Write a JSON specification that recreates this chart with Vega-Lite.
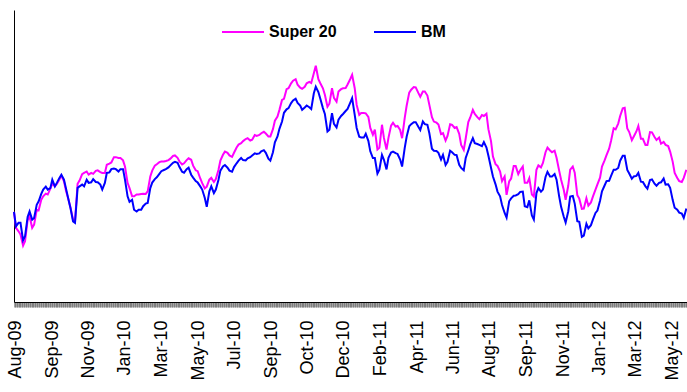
{
  "$schema": "https://vega.github.io/schema/vega-lite/v6.json",
  "width": 673,
  "height": 292,
  "autosize": {"type": "none"},
  "padding": {"left": 14, "top": 10, "right": 0, "bottom": 90},
  "background": "white",
  "config": {"view": {"stroke": null}, "font": "Liberation Sans"},
  "data": {"values": [
    {"d":"2009-07-31","s":105.9,"b":105.9},
    {"d":"2009-08-03","s":100.4,"b":100.9},{"d":"2009-08-07","s":99.2,"b":102.1},
    {"d":"2009-08-10","s":98.1,"b":102.1},{"d":"2009-08-14","s":94.3,"b":96.1},
    {"d":"2009-08-17","s":95.8,"b":97.5},{"d":"2009-08-21","s":103.0,"b":104.1},
    {"d":"2009-08-24","s":104.3,"b":106.0},{"d":"2009-08-28","s":100.4,"b":103.2},
    {"d":"2009-08-31","s":101.5,"b":103.8},{"d":"2009-09-04","s":106.6,"b":108.3},
    {"d":"2009-09-07","s":106.4,"b":109.5},{"d":"2009-09-11","s":110.0,"b":112.0},
    {"d":"2009-09-14","s":111.2,"b":113.5},{"d":"2009-09-18","s":112.1,"b":114.5},
    {"d":"2009-09-21","s":111.8,"b":113.5},{"d":"2009-09-25","s":113.8,"b":114.0},
    {"d":"2009-09-28","s":115.5,"b":116.9},{"d":"2009-10-02","s":114.6,"b":114.6},
    {"d":"2009-10-05","s":115.4,"b":115.8},{"d":"2009-10-09","s":116.9,"b":117.5},
    {"d":"2009-10-12","s":118.3,"b":118.6},{"d":"2009-10-16","s":116.3,"b":116.9},
    {"d":"2009-10-19","s":113.2,"b":114.0},{"d":"2009-10-23","s":110.0,"b":110.0},
    {"d":"2009-10-26","s":107.4,"b":107.2},{"d":"2009-10-30","s":103.2,"b":102.6},
    {"d":"2009-11-02","s":102.6,"b":102.1},{"d":"2009-11-06","s":115.5,"b":114.1},
    {"d":"2009-11-09","s":116.6,"b":114.6},{"d":"2009-11-13","s":118.8,"b":115.2},
    {"d":"2009-11-16","s":119.2,"b":114.6},{"d":"2009-11-20","s":119.7,"b":116.9},
    {"d":"2009-11-23","s":118.6,"b":115.8},{"d":"2009-11-27","s":119.2,"b":116.0},
    {"d":"2009-11-30","s":118.9,"b":117.1},{"d":"2009-12-04","s":119.9,"b":116.1},
    {"d":"2009-12-07","s":120.1,"b":116.0},{"d":"2009-12-11","s":119.5,"b":115.2},
    {"d":"2009-12-14","s":119.2,"b":113.5},{"d":"2009-12-18","s":119.2,"b":115.8},
    {"d":"2009-12-21","s":122.0,"b":119.2},{"d":"2009-12-25","s":122.4,"b":119.4},
    {"d":"2009-12-28","s":122.8,"b":120.5},{"d":"2010-01-01","s":124.6,"b":120.7},
    {"d":"2010-01-04","s":124.6,"b":120.5},{"d":"2010-01-08","s":124.3,"b":119.7},
    {"d":"2010-01-11","s":124.3,"b":120.5},{"d":"2010-01-15","s":123.5,"b":120.5},
    {"d":"2010-01-18","s":121.4,"b":116.9},{"d":"2010-01-22","s":115.8,"b":111.2},
    {"d":"2010-01-25","s":114.0,"b":109.3},{"d":"2010-01-29","s":111.2,"b":110.0},
    {"d":"2010-02-01","s":111.2,"b":106.6},{"d":"2010-02-05","s":111.8,"b":106.0},
    {"d":"2010-02-08","s":111.8,"b":106.6},{"d":"2010-02-12","s":112.0,"b":106.6},
    {"d":"2010-02-15","s":112.1,"b":107.8},{"d":"2010-02-19","s":112.0,"b":108.7},
    {"d":"2010-02-22","s":112.9,"b":108.9},{"d":"2010-02-26","s":118.0,"b":114.0},
    {"d":"2010-03-01","s":120.0,"b":115.9},{"d":"2010-03-05","s":121.7,"b":117.1},
    {"d":"2010-03-08","s":122.2,"b":117.7},{"d":"2010-03-12","s":122.9,"b":118.9},
    {"d":"2010-03-15","s":123.1,"b":119.8},{"d":"2010-03-19","s":123.1,"b":120.2},
    {"d":"2010-03-22","s":123.3,"b":120.5},{"d":"2010-03-26","s":123.6,"b":121.1},
    {"d":"2010-03-29","s":124.1,"b":121.8},{"d":"2010-04-02","s":125.0,"b":122.7},
    {"d":"2010-04-05","s":125.2,"b":123.0},{"d":"2010-04-09","s":124.4,"b":122.7},
    {"d":"2010-04-12","s":123.1,"b":121.2},{"d":"2010-04-16","s":122.1,"b":119.6},
    {"d":"2010-04-19","s":122.5,"b":119.3},{"d":"2010-04-23","s":123.6,"b":120.5},
    {"d":"2010-04-26","s":124.2,"b":121.0},{"d":"2010-04-30","s":123.7,"b":118.6},
    {"d":"2010-05-03","s":121.7,"b":117.6},{"d":"2010-05-07","s":120.1,"b":116.4},
    {"d":"2010-05-10","s":119.8,"b":115.9},{"d":"2010-05-14","s":117.3,"b":114.6},
    {"d":"2010-05-17","s":115.7,"b":113.5},{"d":"2010-05-21","s":113.9,"b":110.6},
    {"d":"2010-05-24","s":114.5,"b":107.6},{"d":"2010-05-28","s":116.9,"b":112.9},
    {"d":"2010-05-31","s":117.5,"b":114.6},{"d":"2010-06-04","s":116.1,"b":112.3},
    {"d":"2010-06-07","s":117.1,"b":113.5},{"d":"2010-06-11","s":120.2,"b":116.8},
    {"d":"2010-06-14","s":123.4,"b":120.0},{"d":"2010-06-18","s":125.4,"b":121.4},
    {"d":"2010-06-21","s":126.5,"b":121.9},{"d":"2010-06-25","s":126.1,"b":121.0},
    {"d":"2010-06-28","s":125.2,"b":120.0},{"d":"2010-07-02","s":124.7,"b":119.6},
    {"d":"2010-07-05","s":126.1,"b":121.2},{"d":"2010-07-09","s":127.9,"b":122.5},
    {"d":"2010-07-12","s":128.9,"b":123.4},{"d":"2010-07-16","s":129.4,"b":124.3},
    {"d":"2010-07-19","s":130.1,"b":123.6},{"d":"2010-07-23","s":130.8,"b":123.5},
    {"d":"2010-07-26","s":131.1,"b":124.2},{"d":"2010-07-30","s":130.3,"b":124.6},
    {"d":"2010-08-02","s":130.6,"b":125.2},{"d":"2010-08-06","s":132.2,"b":125.9},
    {"d":"2010-08-09","s":131.9,"b":125.7},{"d":"2010-08-13","s":132.2,"b":125.9},
    {"d":"2010-08-16","s":132.8,"b":126.6},{"d":"2010-08-20","s":133.3,"b":127.0},
    {"d":"2010-08-23","s":132.7,"b":126.1},{"d":"2010-08-27","s":131.7,"b":124.1},
    {"d":"2010-08-30","s":131.7,"b":123.4},{"d":"2010-09-03","s":134.2,"b":126.3},
    {"d":"2010-09-06","s":137.1,"b":129.7},{"d":"2010-09-10","s":138.5,"b":131.7},
    {"d":"2010-09-13","s":140.8,"b":134.3},{"d":"2010-09-17","s":144.2,"b":136.8},
    {"d":"2010-09-20","s":144.6,"b":139.8},{"d":"2010-09-24","s":147.9,"b":141.0},
    {"d":"2010-09-27","s":148.2,"b":141.4},{"d":"2010-10-01","s":149.9,"b":143.1},
    {"d":"2010-10-04","s":150.8,"b":144.0},{"d":"2010-10-08","s":151.3,"b":144.6},
    {"d":"2010-10-11","s":149.4,"b":143.2},{"d":"2010-10-15","s":148.4,"b":142.3},
    {"d":"2010-10-18","s":148.0,"b":140.8},{"d":"2010-10-22","s":148.7,"b":141.6},
    {"d":"2010-10-25","s":149.9,"b":142.3},{"d":"2010-10-29","s":150.4,"b":141.7},
    {"d":"2010-11-01","s":150.0,"b":141.1},{"d":"2010-11-05","s":153.3,"b":146.5},
    {"d":"2010-11-08","s":155.9,"b":148.7},{"d":"2010-11-12","s":151.3,"b":146.9},
    {"d":"2010-11-15","s":149.9,"b":144.6},{"d":"2010-11-19","s":148.2,"b":141.4},
    {"d":"2010-11-22","s":146.0,"b":139.4},{"d":"2010-11-26","s":141.9,"b":133.4},
    {"d":"2010-11-29","s":142.9,"b":134.0},{"d":"2010-12-03","s":148.2,"b":139.7},
    {"d":"2010-12-06","s":144.9,"b":136.0},{"d":"2010-12-10","s":143.6,"b":134.8},
    {"d":"2010-12-13","s":147.1,"b":137.4},{"d":"2010-12-17","s":147.9,"b":138.7},
    {"d":"2010-12-20","s":148.2,"b":139.4},{"d":"2010-12-24","s":148.3,"b":140.4},
    {"d":"2010-12-27","s":149.5,"b":141.1},{"d":"2010-12-31","s":151.3,"b":143.2},
    {"d":"2011-01-03","s":152.8,"b":144.8},{"d":"2011-01-07","s":148.2,"b":139.1},
    {"d":"2011-01-10","s":142.5,"b":134.6},{"d":"2011-01-14","s":139.1,"b":131.6},
    {"d":"2011-01-17","s":139.7,"b":131.3},{"d":"2011-01-21","s":139.7,"b":131.3},
    {"d":"2011-01-24","s":139.6,"b":132.6},{"d":"2011-01-28","s":138.4,"b":130.2},
    {"d":"2011-01-31","s":134.6,"b":126.6},{"d":"2011-02-04","s":132.3,"b":124.3},
    {"d":"2011-02-07","s":134.0,"b":124.3},{"d":"2011-02-11","s":127.2,"b":119.0},
    {"d":"2011-02-14","s":127.8,"b":120.3},{"d":"2011-02-18","s":135.7,"b":125.4},
    {"d":"2011-02-21","s":131.2,"b":123.7},{"d":"2011-02-25","s":127.2,"b":120.4},
    {"d":"2011-02-28","s":131.2,"b":124.4},{"d":"2011-03-04","s":135.4,"b":126.2},
    {"d":"2011-03-07","s":136.4,"b":126.5},{"d":"2011-03-11","s":135.1,"b":126.0},
    {"d":"2011-03-14","s":135.3,"b":125.7},{"d":"2011-03-18","s":133.9,"b":123.8},
    {"d":"2011-03-21","s":131.1,"b":121.4},{"d":"2011-03-25","s":138.0,"b":127.7},
    {"d":"2011-03-28","s":142.2,"b":131.6},{"d":"2011-04-01","s":146.7,"b":135.2},
    {"d":"2011-04-04","s":147.7,"b":135.9},{"d":"2011-04-08","s":148.6,"b":136.6},
    {"d":"2011-04-11","s":148.5,"b":136.6},{"d":"2011-04-15","s":146.6,"b":135.0},
    {"d":"2011-04-18","s":145.3,"b":133.9},{"d":"2011-04-22","s":147.1,"b":136.8},
    {"d":"2011-04-25","s":147.1,"b":135.9},{"d":"2011-04-29","s":145.7,"b":135.7},
    {"d":"2011-05-02","s":142.5,"b":132.8},{"d":"2011-05-06","s":138.3,"b":127.5},
    {"d":"2011-05-09","s":136.8,"b":126.8},{"d":"2011-05-13","s":136.4,"b":126.7},
    {"d":"2011-05-16","s":135.8,"b":126.1},{"d":"2011-05-20","s":132.5,"b":123.8},
    {"d":"2011-05-23","s":132.8,"b":125.4},{"d":"2011-05-27","s":130.3,"b":121.9},
    {"d":"2011-05-30","s":131.9,"b":123.0},{"d":"2011-06-03","s":135.9,"b":126.8},
    {"d":"2011-06-06","s":135.7,"b":126.3},{"d":"2011-06-10","s":134.6,"b":125.4},
    {"d":"2011-06-13","s":134.9,"b":125.3},{"d":"2011-06-17","s":132.6,"b":122.0},
    {"d":"2011-06-20","s":128.8,"b":120.9},{"d":"2011-06-24","s":127.1,"b":120.1},
    {"d":"2011-06-27","s":131.0,"b":124.3},{"d":"2011-07-01","s":136.6,"b":126.9},
    {"d":"2011-07-04","s":138.2,"b":129.0},{"d":"2011-07-08","s":140.8,"b":131.1},
    {"d":"2011-07-11","s":139.4,"b":129.4},{"d":"2011-07-15","s":138.3,"b":129.1},
    {"d":"2011-07-18","s":137.6,"b":128.8},{"d":"2011-07-22","s":139.0,"b":128.4},
    {"d":"2011-07-25","s":138.7,"b":129.8},{"d":"2011-07-29","s":139.5,"b":127.9},
    {"d":"2011-08-01","s":134.2,"b":125.1},{"d":"2011-08-05","s":130.1,"b":121.0},
    {"d":"2011-08-08","s":124.8,"b":118.0},{"d":"2011-08-12","s":122.2,"b":115.3},
    {"d":"2011-08-15","s":121.6,"b":112.8},{"d":"2011-08-19","s":119.7,"b":111.2},
    {"d":"2011-08-22","s":116.4,"b":108.2},{"d":"2011-08-26","s":118.0,"b":105.5},
    {"d":"2011-08-29","s":111.7,"b":103.9},{"d":"2011-09-02","s":116.3,"b":109.5},
    {"d":"2011-09-05","s":117.3,"b":110.5},{"d":"2011-09-09","s":121.6,"b":111.4},
    {"d":"2011-09-12","s":121.6,"b":111.5},{"d":"2011-09-16","s":118.8,"b":111.9},
    {"d":"2011-09-19","s":120.1,"b":112.7},{"d":"2011-09-23","s":121.4,"b":112.8},
    {"d":"2011-09-26","s":115.8,"b":107.8},{"d":"2011-09-30","s":115.8,"b":107.5},
    {"d":"2011-10-03","s":117.4,"b":109.8},{"d":"2011-10-07","s":111.8,"b":104.6},
    {"d":"2011-10-10","s":111.1,"b":103.2},{"d":"2011-10-14","s":120.3,"b":112.3},
    {"d":"2011-10-17","s":121.8,"b":114.0},{"d":"2011-10-21","s":121.1,"b":112.8},
    {"d":"2011-10-24","s":122.6,"b":113.5},{"d":"2011-10-28","s":126.3,"b":117.8},
    {"d":"2011-10-31","s":127.9,"b":119.6},{"d":"2011-11-04","s":126.9,"b":118.0},
    {"d":"2011-11-07","s":126.3,"b":118.0},{"d":"2011-11-11","s":126.8,"b":118.8},
    {"d":"2011-11-14","s":124.4,"b":116.9},{"d":"2011-11-18","s":120.0,"b":111.2},
    {"d":"2011-11-21","s":116.9,"b":107.6},{"d":"2011-11-25","s":113.5,"b":104.3},
    {"d":"2011-11-28","s":110.0,"b":102.2},{"d":"2011-12-02","s":114.8,"b":106.0},
    {"d":"2011-12-05","s":120.3,"b":111.1},{"d":"2011-12-09","s":121.4,"b":111.3},
    {"d":"2011-12-12","s":119.3,"b":108.7},{"d":"2011-12-16","s":111.6,"b":102.7},
    {"d":"2011-12-19","s":110.4,"b":102.5},{"d":"2011-12-23","s":106.9,"b":97.3},
    {"d":"2011-12-26","s":107.0,"b":97.7},{"d":"2011-12-30","s":110.5,"b":101.8},
    {"d":"2012-01-02","s":108.0,"b":100.2},{"d":"2012-01-06","s":109.1,"b":101.3},
    {"d":"2012-01-09","s":111.1,"b":103.2},{"d":"2012-01-13","s":113.5,"b":105.5},
    {"d":"2012-01-16","s":115.3,"b":106.3},{"d":"2012-01-20","s":117.6,"b":109.7},
    {"d":"2012-01-23","s":121.4,"b":112.9},{"d":"2012-01-27","s":123.5,"b":114.9},
    {"d":"2012-01-30","s":125.3,"b":116.4},{"d":"2012-02-03","s":127.5,"b":116.5},
    {"d":"2012-02-06","s":130.2,"b":118.2},{"d":"2012-02-10","s":134.5,"b":120.3},
    {"d":"2012-02-13","s":134.1,"b":120.3},{"d":"2012-02-17","s":136.1,"b":120.9},
    {"d":"2012-02-20","s":138.7,"b":123.4},{"d":"2012-02-24","s":141.3,"b":125.1},
    {"d":"2012-02-27","s":141.5,"b":125.1},{"d":"2012-03-02","s":134.4,"b":120.2},
    {"d":"2012-03-05","s":133.2,"b":119.0},{"d":"2012-03-09","s":130.4,"b":117.2},
    {"d":"2012-03-12","s":131.7,"b":118.0},{"d":"2012-03-16","s":133.4,"b":118.2},
    {"d":"2012-03-19","s":135.3,"b":119.2},{"d":"2012-03-23","s":130.9,"b":116.2},
    {"d":"2012-03-26","s":130.9,"b":116.1},{"d":"2012-03-30","s":128.8,"b":114.6},
    {"d":"2012-04-02","s":128.8,"b":113.8},{"d":"2012-04-06","s":133.2,"b":116.8},
    {"d":"2012-04-09","s":133.1,"b":117.0},{"d":"2012-04-13","s":131.5,"b":115.5},
    {"d":"2012-04-16","s":130.5,"b":114.8},{"d":"2012-04-20","s":131.3,"b":115.8},
    {"d":"2012-04-23","s":129.2,"b":116.0},{"d":"2012-04-27","s":129.8,"b":117.3},
    {"d":"2012-04-30","s":128.8,"b":115.2},{"d":"2012-05-04","s":128.4,"b":115.3},
    {"d":"2012-05-07","s":126.5,"b":114.1},{"d":"2012-05-11","s":123.0,"b":109.9},
    {"d":"2012-05-14","s":119.2,"b":107.3},{"d":"2012-05-18","s":117.5,"b":106.6},
    {"d":"2012-05-21","s":116.4,"b":105.6},{"d":"2012-05-25","s":116.1,"b":105.3},
    {"d":"2012-05-28","s":117.5,"b":103.8},{"d":"2012-06-01","s":120.3,"b":107.0}
  ]},
  "layer": [
    {
      "mark": {"type": "line", "strokeWidth": 2},
      "encoding": {
        "x": {"field": "d", "type": "temporal",
          "scale": {"domain": [{"year":2009,"month":7,"date":31}, {"year":2012,"month":6,"date":2}]},
          "axis": {"orient": "bottom", "title": null, "labels": false, "grid": false,
            "tickCount": {"interval": "day", "step": 1},
            "tickColor": "#666", "tickWidth": 0.6, "tickSize": 5,
            "domain": true, "domainColor": "black", "domainWidth": 1}},
        "y": {"field": "s", "type": "quantitative", "scale": {"domain": [75, 175], "nice": false, "zero": false},
          "axis": {"title": null, "labels": false, "ticks": false, "grid": false, "domain": true, "domainColor": "black", "domainWidth": 1}},
        "color": {"datum": "Super 20", "type": "nominal",
          "scale": {"domain": ["Super 20", "BM"], "range": ["#FF00FF", "#0000FF"]},
          "legend": {"orient": "none", "legendX": 207, "legendY": 0, "direction": "horizontal", "title": null,
            "symbolType": "stroke", "symbolSize": 1764, "symbolStrokeWidth": 2,
            "labelFontSize": 16, "labelFontWeight": "bold", "labelFont": "Liberation Sans", "labelColor": "black",
            "labelOffset": 4, "columnPadding": 33}}
      }
    },
    {
      "mark": {"type": "line", "strokeWidth": 2},
      "encoding": {
        "x": {"field": "d", "type": "temporal",
          "axis": {"orient": "bottom", "title": null, "grid": false, "ticks": false, "tickSize": 0, "domain": false,
            "format": "%b-%y", "labelAngle": -90, "labelFontSize": 18, "labelFont": "Liberation Sans", "labelColor": "black",
            "labelPadding": 18, "labelOverlap": false, "labelFlush": false,
            "values": [
              {"year":2009,"month":8,"date":3}, {"year":2009,"month":9,"date":28}, {"year":2009,"month":11,"date":23},
              {"year":2010,"month":1,"date":18}, {"year":2010,"month":3,"date":16}, {"year":2010,"month":5,"date":11},
              {"year":2010,"month":7,"date":6}, {"year":2010,"month":9,"date":1}, {"year":2010,"month":10,"date":26},
              {"year":2010,"month":12,"date":21}, {"year":2011,"month":2,"date":16}, {"year":2011,"month":4,"date":13},
              {"year":2011,"month":6,"date":8}, {"year":2011,"month":8,"date":3}, {"year":2011,"month":9,"date":28},
              {"year":2011,"month":11,"date":24}, {"year":2012,"month":1,"date":19}, {"year":2012,"month":3,"date":15},
              {"year":2012,"month":5,"date":10}
            ]}},
        "y": {"field": "b", "type": "quantitative",
          "axis": {"title": null, "labels": false, "ticks": false, "grid": false, "domain": true, "domainColor": "black", "domainWidth": 1}},
        "color": {"datum": "BM", "type": "nominal"}
      }
    }
  ],
  "resolve": {"axis": {"x": "independent"}}
}
